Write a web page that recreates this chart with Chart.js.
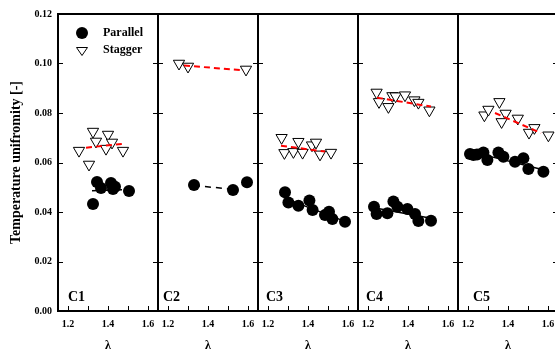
<!DOCTYPE html>
<html>
<head>
<meta charset="utf-8">
<script src="https://cdn.jsdelivr.net/npm/chart.js@4/dist/chart.umd.min.js"></script>
<style>
  body { margin: 0; background: #fff; }
  #wrap { position: relative; width: 555px; height: 353px; overflow: hidden; background: #fff; }
  #wrap canvas { position: absolute; left: 0; top: 0; }
</style>
</head>
<body>
<div id="wrap">
  <canvas id="chartOne" width="600" height="353"></canvas>
  <canvas id="chartTwo" width="600" height="353"></canvas>
  <canvas id="chartThree" width="600" height="353"></canvas>
  <canvas id="chartFour" width="600" height="353"></canvas>
  <canvas id="chartFive" width="600" height="353"></canvas>
</div>
<script>
const serif = "'Liberation Serif', 'Times New Roman', serif";

const panelNames = ['C1', 'C2', 'C3', 'C4', 'C5'];
const xTicks = [1.2, 1.3, 1.4, 1.5, 1.6];
const xLabels = [1.2, 1.4, 1.6];
const yTicks = [0, 0.02, 0.04, 0.06, 0.08, 0.10, 0.12];

// C1
const c1Parallel = [[1.325, 0.0432], [1.345, 0.0521], [1.365, 0.0497], [1.415, 0.0517], [1.425, 0.0493], [1.435, 0.0502], [1.505, 0.0485]];
const c1Stagger = [[1.255, 0.0648], [1.325, 0.0725], [1.34, 0.0685], [1.305, 0.0592], [1.40, 0.0713], [1.42, 0.0681], [1.39, 0.0656], [1.475, 0.0648]];
const c1ParallelFit = [[1.32, 0.0486], [1.47, 0.0490]];
const c1StaggerFit = [[1.29, 0.0660], [1.47, 0.0675]];

// C2
const c2Parallel = [[1.33, 0.0509], [1.525, 0.0489], [1.595, 0.0520]];
const c2Stagger = [[1.255, 0.1000], [1.30, 0.0988], [1.59, 0.0976]];
const c2ParallelFit = [[1.33, 0.0507], [1.525, 0.0492]];
const c2StaggerFit = [[1.28, 0.0992], [1.58, 0.0972]];

// C3
const c3Parallel = [[1.285, 0.0480], [1.302, 0.0438], [1.352, 0.0425], [1.407, 0.0446], [1.423, 0.0408], [1.485, 0.0388], [1.505, 0.0401], [1.522, 0.0372], [1.585, 0.0361]];
const c3Stagger = [[1.268, 0.0700], [1.282, 0.0639], [1.327, 0.0643], [1.352, 0.0684], [1.373, 0.0640], [1.42, 0.0670], [1.44, 0.0681], [1.46, 0.0633], [1.515, 0.0640]];
const c3ParallelFit = [[1.285, 0.0455], [1.585, 0.0362]];
const c3StaggerFit = [[1.265, 0.0668], [1.485, 0.0644]];

// C4
const c4Parallel = [[1.23, 0.0421], [1.243, 0.0392], [1.297, 0.0395], [1.327, 0.0442], [1.347, 0.0421], [1.397, 0.0412], [1.435, 0.0392], [1.452, 0.0364], [1.515, 0.0365]];
const c4Stagger = [[1.243, 0.0883], [1.255, 0.0845], [1.302, 0.0825], [1.322, 0.0869], [1.338, 0.0868], [1.385, 0.0872], [1.432, 0.0852], [1.452, 0.0842], [1.507, 0.0811]];
const c4ParallelFit = [[1.23, 0.0417], [1.515, 0.0375]];
const c4StaggerFit = [[1.245, 0.0862], [1.515, 0.0826]];

// C5
const c5Parallel = [[1.21, 0.0634], [1.227, 0.0630], [1.245, 0.0632], [1.277, 0.0640], [1.297, 0.0610], [1.352, 0.0640], [1.377, 0.0623], [1.435, 0.0603], [1.477, 0.0617], [1.502, 0.0574], [1.577, 0.0563]];
const c5Stagger = [[1.282, 0.0791], [1.302, 0.0814], [1.357, 0.0845], [1.388, 0.0798], [1.368, 0.0764], [1.449, 0.0778], [1.505, 0.0721], [1.532, 0.0740], [1.602, 0.0710]];
const c5ParallelFit = [[1.21, 0.0645], [1.58, 0.0570]];
const c5StaggerFit = [[1.335, 0.0800], [1.565, 0.0719]];

const parallelSets = [c1Parallel, c2Parallel, c3Parallel, c4Parallel, c5Parallel];
const staggerSets = [c1Stagger, c2Stagger, c3Stagger, c4Stagger, c5Stagger];
const parallelFits = [c1ParallelFit, c2ParallelFit, c3ParallelFit, c4ParallelFit, c5ParallelFit];
const staggerFits = [c1StaggerFit, c2StaggerFit, c3StaggerFit, c4StaggerFit, c5StaggerFit];
const parallelDashed = [false, true, false, false, false];
const labelOffsets = [10, 5, 8, 8, 15];

const canvasIds = ['chartOne', 'chartTwo', 'chartThree', 'chartFour', 'chartFive'];

function toPoints(pairs) {
    return pairs.map(p => ({ x: p[0], y: p[1] }));
}

// frame, inside ticks, panel name and (first panel) legend
const panelDecor = {
    id: 'panelDecor',
    afterDatasetsDraw(chart, args, opts) {
        const { ctx, chartArea: a, scales: { x, y } } = chart;
        ctx.save();
        ctx.strokeStyle = '#000';
        ctx.lineWidth = 1;
        ctx.beginPath();
        xTicks.forEach(v => {
            const px = Math.round(x.getPixelForValue(v)) + 0.5;
            ctx.moveTo(px, a.bottom);
            ctx.lineTo(px, a.bottom - 5);
        });
        yTicks.forEach(v => {
            if (v <= 0 || v >= 0.12) return;
            const py = Math.round(y.getPixelForValue(v)) + 0.5;
            ctx.moveTo(a.left, py);
            ctx.lineTo(a.left + 5, py);
            ctx.moveTo(a.right, py);
            ctx.lineTo(a.right - 5, py);
        });
        ctx.stroke();

        ctx.lineWidth = 2;
        ctx.strokeRect(a.left, a.top, a.right - a.left, a.bottom - a.top);

        ctx.fillStyle = '#000';
        ctx.font = 'bold 14px ' + serif;
        ctx.textAlign = 'left';
        ctx.textBaseline = 'alphabetic';
        ctx.fillText(opts.name, a.left + opts.offset, 301);

        if (opts.legend) {
            ctx.beginPath();
            ctx.arc(82, 33, 6, 0, Math.PI * 2);
            ctx.fill();
            ctx.beginPath();
            ctx.moveTo(76.5, 47.5);
            ctx.lineTo(87.5, 47.5);
            ctx.lineTo(82, 55.5);
            ctx.closePath();
            ctx.fillStyle = '#fff';
            ctx.fill();
            ctx.lineWidth = 1;
            ctx.stroke();
            ctx.fillStyle = '#000';
            ctx.font = 'bold 12px ' + serif;
            ctx.textBaseline = 'middle';
            ctx.fillText('Parallel', 103, 33);
            ctx.fillText('Stagger', 103, 50);
        }
        ctx.restore();
    }
};

const charts = [];

panelNames.forEach((name, i) => {
    const first = i === 0;
    const ctx = document.getElementById(canvasIds[i]).getContext('2d');
    charts.push(new Chart(ctx, {
        type: 'scatter',
        data: {
            datasets: [{
                label: 'Stagger fit',
                data: toPoints(staggerFits[i]),
                showLine: true,
                borderColor: '#ff0000',
                borderWidth: 2,
                borderDash: [6, 4],
                pointRadius: 0
            }, {
                label: 'Parallel fit',
                data: toPoints(parallelFits[i]),
                showLine: true,
                borderColor: '#000',
                borderWidth: 1.5,
                borderDash: parallelDashed[i] ? [6, 5] : [],
                pointRadius: 0
            }, {
                label: 'Stagger',
                data: toPoints(staggerSets[i]),
                pointStyle: 'triangle',
                rotation: 180,
                pointRadius: 6.5,
                backgroundColor: '#fff',
                borderColor: '#000',
                borderWidth: 1
            }, {
                label: 'Parallel',
                data: toPoints(parallelSets[i]),
                pointStyle: 'circle',
                pointRadius: 6,
                backgroundColor: '#000',
                borderColor: '#000',
                borderWidth: 0
            }]
        },
        options: {
            responsive: false,
            animation: false,
            layout: {
                padding: {
                    left: first ? 0 : 58 + 100 * i,
                    right: 600 - (158 + 100 * i),
                    top: 14,
                    bottom: 0
                }
            },
            scales: {
                x: {
                    type: 'linear',
                    min: 1.15,
                    max: 1.65,
                    afterBuildTicks: s => { s.ticks = xTicks.map(v => ({ value: v })); },
                    afterFit: s => { s.height = 42; },
                    grid: { display: false, drawTicks: false },
                    border: { display: false },
                    ticks: {
                        autoSkip: false,
                        maxRotation: 0,
                        padding: 7,
                        color: '#000',
                        font: { family: serif, size: 10, weight: 'bold' },
                        callback: v => xLabels.some(l => Math.abs(l - v) < 1e-6) ? v.toFixed(1) : ''
                    },
                    title: {
                        display: true,
                        text: 'λ',
                        color: '#000',
                        font: { family: serif, size: 12, weight: 'bold', lineHeight: 1 },
                        padding: { top: 0, bottom: 1 }
                    }
                },
                y: {
                    display: first,
                    min: 0,
                    max: 0.12,
                    afterBuildTicks: s => { s.ticks = yTicks.map(v => ({ value: v })); },
                    afterFit: s => { s.width = first ? 58 : 0; },
                    grid: { display: false, drawTicks: false },
                    border: { display: false },
                    ticks: {
                        padding: 6,
                        color: '#000',
                        font: { family: serif, size: 10, weight: 'bold' },
                        callback: v => v.toFixed(2)
                    },
                    title: {
                        display: true,
                        text: 'Temperature unifromity [-]',
                        color: '#000',
                        font: { family: serif, size: 14, weight: 'bold' },
                        padding: { top: 8, bottom: 0 }
                    }
                }
            },
            plugins: {
                legend: { display: false },
                tooltip: { enabled: false },
                panelDecor: { name: name, offset: labelOffsets[i], legend: first }
            }
        },
        plugins: [panelDecor]
    }));
});
</script>
</body>
</html>
